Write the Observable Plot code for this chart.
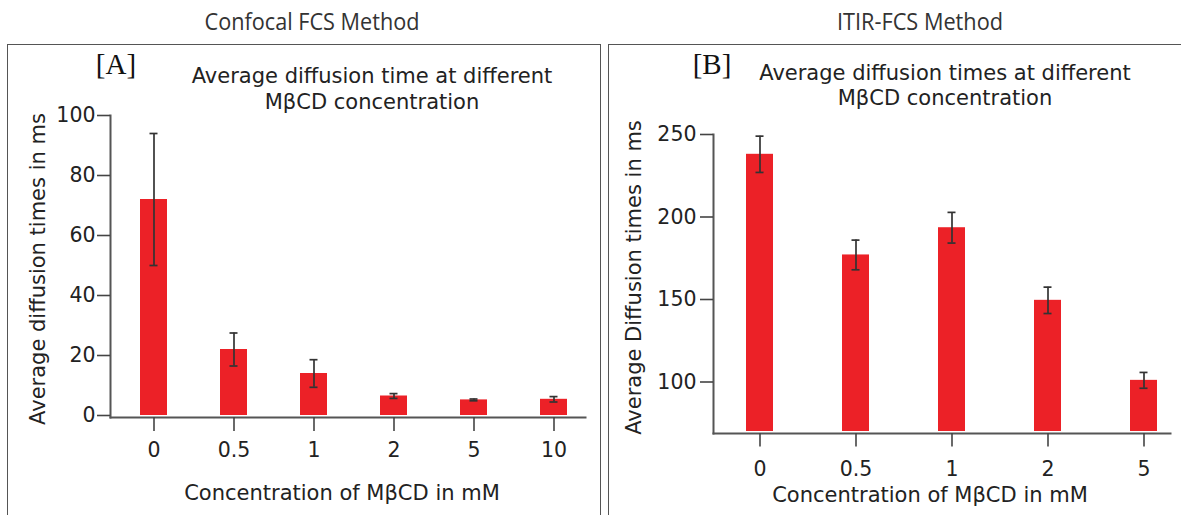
<!DOCTYPE html>
<html>
<head>
<meta charset="utf-8">
<script src="https://cdn.jsdelivr.net/npm/d3@7"></script>
<script src="https://cdn.jsdelivr.net/npm/@observablehq/plot@0.6"></script>
<style>
  html, body { margin: 0; padding: 0; background: #fff; }
  #page { position: relative; width: 1181px; height: 515px; overflow: hidden; background: #fff; }
  .box { position: absolute; top: 44px; height: 520px; border: 1.5px solid #555; border-bottom: none; box-sizing: border-box; }
  .chart { position: absolute; top: 0; }
  #labels { position: absolute; left: 0; top: 0; pointer-events: none; }
  #labels text { fill: #222; }
  .head { font-family: "Open Sans", sans-serif; font-size: 23px; fill: #333 !important; }
  .tag { font-family: "Liberation Serif", serif; font-size: 29px; fill: #111 !important; }
  .title, .axt { font-family: "DejaVu Sans", sans-serif; font-size: 21px; }
</style>
</head>
<body>
<div id="page">
  <div class="box" style="left:7px; width:594px;"></div>
  <div class="box" style="left:608px; width:590px;"></div>
  <div id="chartA" class="chart" style="left:0;"></div>
  <div id="chartB" class="chart" style="left:600px;"></div>
  <svg id="labels" width="1181" height="515">
    <text class="head" x="312" y="30" text-anchor="middle" textLength="215" lengthAdjust="spacingAndGlyphs">Confocal FCS Method</text>
    <text class="head" x="920" y="30" text-anchor="middle" textLength="166" lengthAdjust="spacingAndGlyphs">ITIR-FCS Method</text>
    <text class="tag" x="116" y="74" text-anchor="middle">[A]</text>
    <text class="tag" x="712" y="74" text-anchor="middle">[B]</text>
    <text class="title" x="372" y="82.5" text-anchor="middle">Average diffusion time at different</text>
    <text class="title" x="372" y="109" text-anchor="middle">MβCD concentration</text>
    <text class="title" x="945" y="79.5" text-anchor="middle">Average diffusion times at different</text>
    <text class="title" x="945" y="104.5" text-anchor="middle">MβCD concentration</text>
    <text class="axt" x="342" y="500" text-anchor="middle">Concentration of MβCD in mM</text>
    <text class="axt" x="930" y="502" text-anchor="middle">Concentration of MβCD in mM</text>
    <text class="axt" transform="translate(45,269) rotate(-90)" text-anchor="middle" font-size="22">Average diffusion times in ms</text>
    <text class="axt" transform="translate(641,277.5) rotate(-90)" text-anchor="middle" font-size="22">Average Diffusion times in ms</text>
  </svg>
</div>
<script>
// Confocal FCS: mean diffusion time (ms) and error per MβCD concentration (mM)
const concentrationA = ["0", "0.5", "1", "2", "5", "10"];
const meanA = [72, 22, 14, 6.5, 5.2, 5.4];
const errorA = [22, 5.5, 4.6, 0.8, 0.3, 0.9];
const yDomainA = [0, 100];
const yTicksA = [0, 20, 40, 60, 80, 100];

// ITIR-FCS: mean diffusion time (ms) and error per MβCD concentration (mM)
const concentrationB = ["0", "0.5", "1", "2", "5"];
const meanB = [238, 177, 193.5, 149.5, 101];
const errorB = [11, 9, 9.3, 8, 4.8];
const yDomainB = [70, 250];
const yTicksB = [100, 150, 200, 250];

const RED = "#ec2127";
const AXIS = "#555";
const WHISKER = "#333";

function toRows(cats, means, errs) {
  return cats.map((c, i) => ({conc: c, mean: means[i], lo: means[i] - errs[i], hi: means[i] + errs[i]}));
}

function barPanel(o) {
  const bandInset = 9.5; // narrows the whisker caps inside each bar
  return Plot.plot({
    width: o.width,
    height: o.height,
    marginLeft: o.marginLeft,
    marginRight: o.marginRight,
    marginTop: o.marginTop,
    marginBottom: o.marginBottom,
    style: {fontFamily: "DejaVu Sans, sans-serif", fontSize: "20.5px", color: "#222", background: "transparent", overflow: "visible"},
    x: {type: "band", domain: o.cats, range: o.xRange, paddingInner: o.padding, paddingOuter: o.padding / 2, align: 0.5, label: null},
    y: {domain: o.yDomain, range: o.yRange, label: null},
    marks: [
      Plot.barY(o.data, {x: "conc", y1: o.yDomain[0], y2: "mean", fill: RED}),
      Plot.ruleX(o.data, {x: "conc", y1: "lo", y2: "hi", stroke: WHISKER, strokeWidth: 1.7}),
      Plot.tickY(o.data, {x: "conc", y: "lo", stroke: WHISKER, strokeWidth: 1.7, insetLeft: bandInset, insetRight: bandInset}),
      Plot.tickY(o.data, {x: "conc", y: "hi", stroke: WHISKER, strokeWidth: 1.7, insetLeft: bandInset, insetRight: bandInset}),
      Plot.frame({anchor: "left", stroke: AXIS, strokeWidth: 2}),
      Plot.frame({anchor: "bottom", stroke: AXIS, strokeWidth: 2}),
      Plot.axisY({ticks: o.yTicks, tickSize: 13, tickPadding: o.yTickPadding, label: null, stroke: "#444", strokeWidth: 1.6}),
      Plot.axisX({tickSize: o.xTickSize, tickPadding: o.xTickPadding, label: null, stroke: "#444", strokeWidth: 1.6})
    ]
  });
}

document.getElementById("chartA").append(barPanel({
  data: toRows(concentrationA, meanA, errorA),
  cats: concentrationA,
  width: 600, height: 515,
  marginLeft: 110, marginRight: 15, marginTop: 115, marginBottom: 98,
  xRange: [111.8, 594.2], padding: 0.664,
  yDomain: yDomainA, yRange: [415, 115], yTicks: yTicksA,
  yTickPadding: 2, xTickSize: 14, xTickPadding: 11
}));

document.getElementById("chartB").append(barPanel({
  data: toRows(concentrationB, meanB, errorB),
  cats: concentrationB,
  width: 581, height: 515,
  marginLeft: 113, marginRight: 11, marginTop: 134, marginBottom: 82,
  xRange: [110.9, 591.9], padding: 0.72,
  yDomain: yDomainB, yRange: [431, 134], yTicks: yTicksB,
  yTickPadding: 4, xTickSize: 13.5, xTickPadding: 14
}));
</script>
</body>
</html>
